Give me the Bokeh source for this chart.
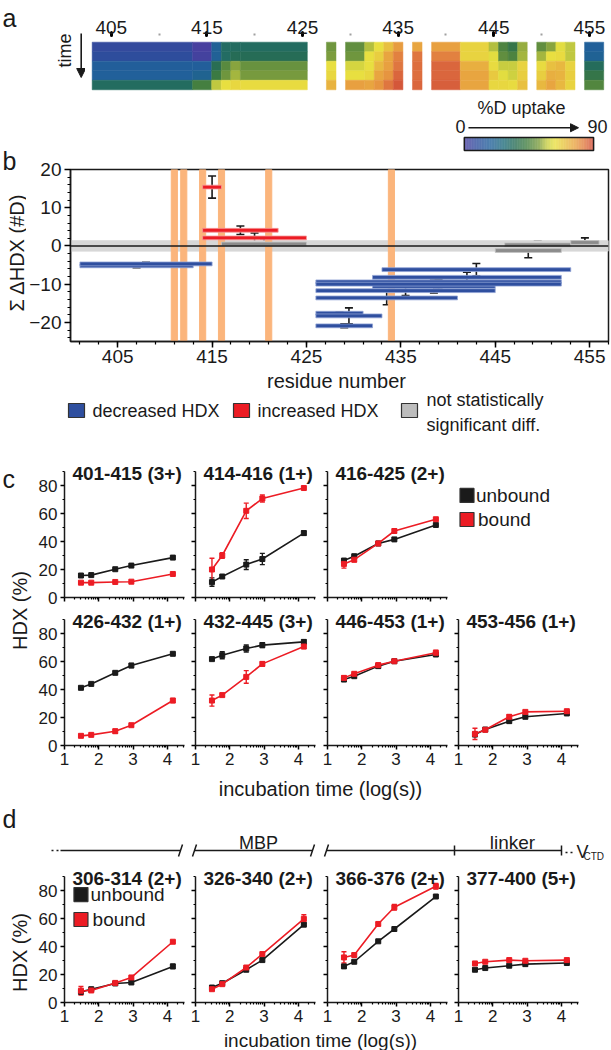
import math
import numpy as np
from bokeh.plotting import figure
from bokeh.models import (Range1d, FixedTicker, Label, Arrow, NormalHead, Whisker,
                          TeeHead, ColumnDataSource, LinearColorMapper, Span)
from bokeh.layouts import column, row
from bokeh.embed import file_html
from bokeh.resources import INLINE

FONT = "Liberation Sans"
INK = "#1a1a1a"
RED = "#ec1c24"
BLUE = "#2f4f9f"
GREY = "#8c8c8c"

# ---------------- data: panel a (heat map, %D uptake, 5 time points) ----------------
heat_left = [403.0, 413.5, 415.5, 416.5, 417.5, 418.5, 427.5, 429.5, 431.5, 432.5, 433.5, 434.5,
             436.5, 438.5, 441.5, 444.5, 445.5, 446.5, 447.5, 449.5, 450.5, 451.5, 452.5, 454.5]
heat_right = [413.5, 415.5, 416.5, 417.5, 418.5, 425.5, 428.5, 431.5, 432.5, 433.5, 434.5, 435.5,
              437.5, 441.5, 444.5, 445.5, 446.5, 447.5, 448.5, 450.5, 451.5, 452.5, 453.5, 456.5]
heat_values = [
    [7, 9, 17, 18, 33], [1, 2, 17, 21, 44], [19, 19, 36, 42, 57], [32, 32, 47, 50, 63],
    [33, 35, 53, 55, 65], [33, 35, 49, 51, 64], [50, 52, 63, 65, 73], [48, 50, 60, 63, 77],
    [56, 63, 63, 65, 76], [63, 67, 72, 76, 79], [70, 76, 77, 79, 84], [78, 82, 84, 86, 88],
    [76, 84, 85, 85, 86], [77, 82, 86, 86, 87], [66, 66, 74, 76, 76], [56, 62, 64, 68, 65],
    [45, 48, 58, 62, 65], [40, 45, 58, 59, 64], [54, 55, 66, 67, 70], [48, 55, 64, 67, 72],
    [53, 63, 70, 74, 76], [62, 64, 72, 73, 72], [57, 57, 66, 67, 66], [18, 20, 34, 40, 46],
]
heat_ticks = [405, 415, 425, 435, 445, 455]
heat_minor = [410, 420, 430, 440, 450]
uptake_low, uptake_high = 0, 90

# ---------------- data: panel b (sum delta HDX per peptide) ----------------
pep_start = [401, 401, 414, 414, 414, 416, 426, 426, 426, 426, 426, 432, 426, 426, 432, 433, 446, 445, 453]
pep_end = [413, 415, 416, 422, 425, 425, 431, 433, 432, 441, 445, 445, 452, 452, 452, 453, 453, 452, 456]
pep_dhdx = [-5.2, -4.7, 15.4, 4.1, 2.1, 0.5, -17.6, -18.3, -20.9, -13.6, -11.7, -10.6, -9.4, -10.0,
            -8.2, -6.2, 0.3, -1.2, 0.9]
pep_err = [0.5, 0.4, 2.9, 1.1, 1.3, 1.4, 0.3, 2.1, 0.5, 1.8, 1.3, 1.7, 1.3, 1.3, 1.3, 1.6, 1.0, 1.9, 1.2]
pep_class = ["dec", "dec", "inc", "inc", "inc", "ns", "dec", "dec", "dec", "dec", "dec", "dec", "dec",
             "dec", "dec", "dec", "ns", "ns", "ns"]
band_residues = [411, 412, 414, 416, 421, 434]
ns_band = 1.35
b_xticks = [405, 415, 425, 435, 445, 455]
b_yticks = [-20, -10, 0, 10, 20]

# ---------------- data: panels c and d (HDX % vs log time) ----------------
times_log = [1.48, 1.78, 2.48, 2.95, 4.16]
c_titles = ["401-415 (3+)", "414-416 (1+)", "416-425 (2+)", "426-432 (1+)", "432-445 (3+)",
            "446-453 (1+)", "453-456 (1+)"]
c_unbound = [[15.7, 16.0, 20.2, 22.8, 28.5], [11.0, 15.0, 23.5, 27.5, 46.0], [26.4, 29.5, 38.6, 41.5, 51.8],
             [41.2, 44.0, 51.9, 57.1, 65.5], [61.7, 64.5, 69.3, 71.7, 74.0], [47.1, 49.5, 56.7, 60.2, 65.0],
             [7.9, 11.4, 17.4, 20.5, 22.9]]
c_unbound_err = [[0.5, 0.6, 0.6, 0.8, 0.6], [3.0, 0.8, 3.5, 4.0, 1.5], [1.0, 0.8, 0.8, 1.2, 0.6],
                 [0.6, 0.5, 0.8, 1.5, 0.6], [0.8, 2.5, 2.5, 1.8, 1.5], [1.2, 0.8, 1.5, 0.8, 1.0],
                 [1.5, 1.0, 1.2, 0.6, 0.6]]
c_bound = [[10.6, 10.6, 11.1, 11.3, 16.8], [20.0, 30.0, 61.9, 70.7, 78.2], [24.0, 27.0, 38.6, 47.5, 55.9],
           [6.9, 7.6, 10.2, 14.5, 32.1], [32.1, 36.0, 49.0, 58.3, 70.7], [48.3, 51.2, 57.4, 60.2, 66.2],
           [8.3, 11.2, 20.5, 24.0, 24.5]]
c_bound_err = [[0.4, 0.4, 0.4, 0.4, 0.5], [8.0, 2.0, 5.5, 2.5, 0.8], [3.0, 1.5, 1.5, 1.2, 0.6],
               [0.6, 0.6, 1.5, 0.8, 1.5], [4.0, 1.0, 4.5, 1.5, 1.5], [1.5, 1.0, 1.5, 0.8, 1.8],
               [4.0, 1.0, 1.5, 0.8, 0.8]]
d_titles = ["306-314 (2+)", "326-340 (2+)", "366-376 (2+)", "377-400 (5+)"]
d_unbound = [[7.6, 9.5, 13.6, 14.3, 25.8], [10.7, 13.8, 23.4, 30.3, 55.6], [25.8, 29.1, 43.7, 52.5, 75.7],
             [23.4, 24.6, 26.3, 27.4, 28.2]]
d_unbound_err = [[0.6, 0.6, 0.6, 0.8, 1.5], [0.6, 0.6, 0.8, 1.0, 0.8], [0.8, 0.6, 0.6, 0.6, 0.6],
                 [0.6, 0.6, 0.6, 0.6, 0.6]]
d_bound = [[8.4, 8.6, 14.0, 17.9, 43.4], [9.5, 13.1, 25.0, 34.6, 59.7], [32.2, 33.9, 56.1, 68.0, 83.0],
           [27.9, 29.1, 30.3, 29.8, 30.3]]
d_bound_err = [[3.0, 1.0, 0.6, 0.8, 0.8], [0.8, 0.8, 0.8, 0.8, 3.0], [4.0, 1.0, 1.0, 2.0, 2.0],
               [0.8, 0.6, 0.6, 0.6, 0.6]]
domains = ["MBP", "linker"]

# ---------------- colour map ----------------
cmap_stops = [0.0, 0.09, 0.2, 0.31, 0.39, 0.48, 0.58, 0.64, 0.7, 0.78, 0.86, 0.93, 1.0]
cmap_colors = ["#4a3f9f", "#2f4c9c", "#21609a", "#1e6b78", "#266c55", "#3f7c40", "#7e9e3e",
               "#c6cc40", "#e8e040", "#e8c040", "#e8a040", "#e07840", "#d04a38"]


def _rgb(h):
    return [int(h[i:i + 2], 16) for i in (1, 3, 5)]


_rgbs = np.array([_rgb(c) for c in cmap_colors], dtype=float)
palette = []
for t in np.linspace(0, 1, 256):
    palette.append("#%02x%02x%02x" % tuple(int(round(np.interp(t, cmap_stops, _rgbs[:, k]))) for k in range(3)))
mapper = LinearColorMapper(palette=palette, low=uptake_low, high=uptake_high)

PXR = 9.561            # px per residue in panels a/b
B_FRAME_LEFT = 63      # px position of residue axis origin (x=400)
XMIN, XMAX = 400, 457


def common(p):
    p.grid.visible = False
    p.background_fill_color = None
    p.border_fill_color = "white"
    p.outline_line_color = None


def lab(p, x, y, text, size="18px", align="left", baseline="middle", angle=0.0, bold=False, **kw):
    p.add_layout(Label(x=x, y=y, text=text, text_font=FONT, text_font_size=size, text_align=align,
                       text_baseline=baseline, angle=angle, text_color=INK,
                       text_font_style="bold" if bold else "normal", **kw))


def canvas(x0, x1, y0, y1):
    """A plain drawing area whose coordinates are page pixels (for labels / decorations)."""
    p = figure(width=x1 - x0, height=y1 - y0, title=None, x_range=Range1d(x0, x1), y_range=Range1d(y1, y0),
               x_axis_type=None, y_axis_type=None, output_backend="svg", toolbar_location=None, min_border=0)
    common(p)
    return p


# ================= left strip for panels a / b =================
ab_left = canvas(0, 26, 0, 371)
lab(ab_left, 2, 17, "a", size="25px", baseline="alphabetic")
lab(ab_left, 2, 160, "b", size="25px", baseline="alphabetic")
lab(ab_left, 16, 252, "\u03a3 \u0394HDX (#D)", size="20px", align="center", angle=math.pi / 2)

# ================= Panel a =================
a_mid = canvas(26, 85, 0, 156)
lab(a_mid, 64, 50, "time", size="18px", align="center", angle=math.pi / 2)
a_mid.add_layout(Arrow(x_start=80.7, y_start=33, x_end=80.7, y_end=77, line_width=1.6, line_color=INK,
                       end=NormalHead(size=9, fill_color=INK, line_color=INK)))

pa = figure(width=526, height=156, title=None,
            x_range=Range1d(XMIN + (85 - B_FRAME_LEFT) / PXR, XMIN + (611 - B_FRAME_LEFT) / PXR),
            y_range=Range1d(11.9, -0.7), x_axis_location="above", y_axis_type=None,
            output_backend="svg", toolbar_location=None,
            min_border_left=0, min_border_right=0, min_border_top=35, min_border_bottom=1)
common(pa)
hl, hr, ht, hb, hv = [], [], [], [], []
for l, r, vals in zip(heat_left, heat_right, heat_values):
    for i, v in enumerate(vals):
        hl.append(l); hr.append(r); ht.append(i); hb.append(i + 1); hv.append(v)
pa.quad(left="l", right="r", top="t", bottom="b",
        source=ColumnDataSource(dict(l=hl, r=hr, t=ht, b=hb, v=hv)),
        fill_color={"field": "v", "transform": mapper}, line_color={"field": "v", "transform": mapper},
        line_width=0.5)
ax = pa.xaxis[0]
ax.ticker = FixedTicker(ticks=heat_ticks, minor_ticks=heat_minor)
ax.axis_line_color = None
ax.major_tick_in = 0
ax.major_tick_out = 3
ax.major_tick_line_width = 3
ax.major_tick_line_cap = "round"
ax.minor_tick_in = 0
ax.minor_tick_out = 2
ax.minor_tick_line_width = 2
ax.minor_tick_line_color = "#a0a0a0"
ax.major_label_text_font = FONT
ax.major_label_text_font_size = "19px"
ax.major_label_text_color = INK
ax.major_label_standoff = -1

# colour bar (extra ranges: 0..90 %D)
pa.extra_x_ranges = {"cb": Range1d(-263.66, 102.46)}
pa.extra_y_ranges = {"cb": Range1d(-0.385, 8.846)}
cb_edges = np.linspace(uptake_low, uptake_high, 181)
pa.quad(left=cb_edges[:-1], right=cb_edges[1:], bottom=0, top=1,
        fill_color=[palette[int(round((0.5 * (a + b) - uptake_low) / (uptake_high - uptake_low) * 255))]
                    for a, b in zip(cb_edges[:-1], cb_edges[1:])],
        line_color=None, x_range_name="cb", y_range_name="cb")
pa.quad(left=uptake_low, right=uptake_high, bottom=0, top=1, fill_color=None, line_color=INK, line_width=1.5,
        x_range_name="cb", y_range_name="cb")
lab(pa, 39.8, 3.3, "%D uptake", size="18px", align="center", x_range_name="cb", y_range_name="cb")
lab(pa, -2.6, 1.85, str(uptake_low), size="18px", align="center", x_range_name="cb", y_range_name="cb")
lab(pa, 92.7, 1.85, str(uptake_high), size="18px", align="center", x_range_name="cb", y_range_name="cb")
pa.add_layout(Arrow(x_start=2.9, y_start=1.75, x_end=79.5, y_end=1.75, line_width=1.3, line_color=INK,
                    end=NormalHead(size=8, fill_color=INK, line_color=INK),
                    x_range_name="cb", y_range_name="cb"))

# ================= Panel b =================
pb = figure(width=585, height=215, title=None, x_range=Range1d(XMIN, XMAX), y_range=Range1d(-25, 20),
            output_backend="svg", toolbar_location=None,
            min_border_left=37, min_border_right=3, min_border_top=13, min_border_bottom=30)
common(pb)
pb.outline_line_color = INK
pb.outline_line_width = 1.5
pb.hbar(y=0, height=2 * ns_band, left=XMIN, right=XMAX, color="#d7d7d7")
pb.vbar(x=band_residues, width=0.65, bottom=-25, top=20, color="#fbb57c")
pb.add_layout(Span(location=0, dimension="width", line_color=INK, line_width=1.5))
fill_of = {"dec": BLUE, "inc": RED, "ns": GREY}
edge_of = {"dec": "#8fa2d4", "inc": "#f59a9a", "ns": "#c4c4c4"}
pb.hbar(y=pep_dhdx, left=pep_start, right=pep_end, height=1.0,
        fill_color=[fill_of[c] for c in pep_class], line_color=[edge_of[c] for c in pep_class], line_width=0.8)
centers = [(s + e) / 2 for s, e in zip(pep_start, pep_end)]
esrc = ColumnDataSource(dict(x=centers, u=[v + e for v, e in zip(pep_dhdx, pep_err)],
                             l=[v - e for v, e in zip(pep_dhdx, pep_err)]))
pb.add_layout(Whisker(source=esrc, base="x", upper="u", lower="l", line_color=INK, line_width=1.6,
                      upper_head=TeeHead(size=8, line_color=INK, line_width=1.6),
                      lower_head=TeeHead(size=8, line_color=INK, line_width=1.6)))
pb.xaxis.ticker = FixedTicker(ticks=b_xticks, minor_ticks=list(range(401, 458, 2)))
pb.yaxis.ticker = FixedTicker(ticks=b_yticks, minor_ticks=list(range(-24, 21, 2)))
for a in (pb.xaxis[0], pb.yaxis[0]):
    a.axis_line_width = 1.5
    a.axis_line_color = INK
    a.major_tick_in = 0
    a.major_tick_out = 6
    a.major_tick_line_width = 1.5
    a.minor_tick_in = 0
    a.minor_tick_out = 3
    a.minor_tick_line_width = 1.2
    a.major_label_text_font = FONT
    a.major_label_text_font_size = "19px"
    a.major_label_text_color = INK
pb.xaxis.major_label_standoff = 2
pb.yaxis.major_label_standoff = 3

# ================= axis title + legend of b =================
pl = canvas(0, 611, 371, 440)
lab(pl, 336, 380, "residue number", size="20px", align="center")
leg_x = [76, 241, 409]
pl.rect(x=leg_x, y=410, width=16, height=14, fill_color=[BLUE, RED, "#bdbdbd"], line_color="#333333",
        line_width=1.2)
lab(pl, 92, 410, "decreased HDX", size="18px")
lab(pl, 257, 410, "increased HDX", size="18px")
lab(pl, 426, 399, "not statistically", size="18px")
lab(pl, 426, 424, "significant diff.", size="18px")

# ================= small HDX panels =================
PX_PER_PCT = 1.4
XR_END = 1 + 125 / 34.286
x_minor = [math.log10(k * 10 ** n) for n in range(1, 5) for k in range(2, 10) if math.log10(k * 10 ** n) <= 4.5]


def hdx_panel(width, bl, bt, bb, title=None, series=(), show_x=False, show_y=False, axes=True, ytop=100.0):
    fh = int(round(ytop * PX_PER_PCT))
    p = figure(width=width, height=bt + fh + bb, title=None, x_range=Range1d(1, XR_END), y_range=Range1d(0, ytop),
               output_backend="svg", toolbar_location=None,
               x_axis_type="linear" if axes else None, y_axis_type="linear" if axes else None,
               min_border_left=bl, min_border_right=0, min_border_top=bt, min_border_bottom=bb)
    common(p)
    if axes:
        p.xaxis.ticker = FixedTicker(ticks=[1, 2, 3, 4], minor_ticks=x_minor)
        p.yaxis.ticker = FixedTicker(ticks=[0, 20, 40, 60, 80], minor_ticks=[10, 30, 50, 70, 90])
        p.xaxis.bounds = (1, 4.5)
        p.yaxis.bounds = (0, 90)
        for a, show in ((p.xaxis[0], show_x), (p.yaxis[0], show_y)):
            a.axis_line_width = 1.5
            a.axis_line_color = INK
            a.major_tick_in = 0
            a.major_tick_out = 4
            a.major_tick_line_width = 1.5
            a.minor_tick_in = 0
            a.minor_tick_out = 2
            a.minor_tick_line_width = 1.2
            a.major_label_text_font = FONT
            if show:
                a.major_label_text_font_size = "17px"
                a.major_label_text_color = INK
                a.major_label_standoff = 3
            else:
                a.major_label_text_font_size = "1px"
                a.major_label_text_color = None
                a.major_label_standoff = 0
    for vals, errs, col in series:
        src = ColumnDataSource(dict(x=times_log, y=vals, u=[v + e for v, e in zip(vals, errs)],
                                    l=[v - e for v, e in zip(vals, errs)]))
        p.line("x", "y", source=src, color=col, line_width=1.6)
        p.add_layout(Whisker(source=src, base="x", upper="u", lower="l", line_color=col, line_width=1.4,
                             upper_head=TeeHead(size=5, line_color=col, line_width=1.4),
                             lower_head=TeeHead(size=5, line_color=col, line_width=1.4)))
        p.scatter("x", "y", source=src, marker="square", size=5, color=col)
    if title:
        lab(p, 1.23, 88.8, title, size="19px", bold=True)
    return p


def legend_items(p, xs, xt, y1, y2):
    p.rect(x=[xs, xs], y=[y1, y2], width=14, height=14, width_units="screen", height_units="screen",
           fill_color=[INK, RED], line_color="#333333", line_width=1.2)
    lab(p, xt, y1, "unbound", size="19px")
    lab(p, xt + 0.06, y2, "bound", size="19px")


# geometry per column: (width, left border)
cols = [(157, 32), (131, 6), (132, 7), (131, 6)]
C_BOT_YTOP = 90 + 11 / PX_PER_PCT   # lower c row starts 3 px later to leave room for the "0" label above

c_top = []
for k in range(3):
    w, bl = cols[k]
    c_top.append(hdx_panel(w, bl, 17, 11, c_titles[k],
                           [(c_unbound[k], c_unbound_err[k], INK), (c_bound[k], c_bound_err[k], RED)],
                           show_x=False, show_y=(k == 0)))
w, bl = cols[3]
c_leg = hdx_panel(w, bl, 17, 11, axes=False)
legend_items(c_leg, 1.248, 1.51, 72.9, 55.7)
c_top.append(c_leg)

c_bot = []
for k in range(4):
    w, bl = cols[k]
    c_bot.append(hdx_panel(w, bl, 0, 27, c_titles[3 + k],
                           [(c_unbound[3 + k], c_unbound_err[3 + k], INK), (c_bound[3 + k], c_bound_err[3 + k], RED)],
                           show_x=True, show_y=(k == 0), ytop=C_BOT_YTOP))

c_left = canvas(0, 32, 440, 772)
lab(c_left, 2, 478, "c", size="25px", baseline="alphabetic")
lab(c_left, 19.5, 610, "HDX (%)", size="20px", align="center", angle=math.pi / 2)

# ================= header between c and d =================
ph = canvas(0, 611, 772, 862)
lab(ph, 320, 788, "incubation time (log(s))", size="20px", align="center", baseline="alphabetic")
lab(ph, 2, 818, "d", size="25px", baseline="alphabetic")
BY = 850
ph.segment(x0=[60, 194, 326, 454], y0=BY, x1=[180, 312, 454, 561], y1=BY, line_color=INK, line_width=1.5)
ph.segment(x0=[178, 192, 310, 324], y0=BY + 6, x1=[182, 196, 314, 328], y1=BY - 6, line_color=INK,
           line_width=1.5)
ph.segment(x0=[454, 561], y0=BY + 5, x1=[454, 561], y1=BY - 5, line_color=INK, line_width=1.5)
ph.segment(x0=[51, 565], y0=[BY, BY + 2], x1=[59, 574], y1=[BY, BY + 2], line_color=INK, line_width=1.5,
           line_dash="2 3")
lab(ph, 258, 842, domains[0], size="18px", align="center")
lab(ph, 512, 842, domains[1], size="19px", align="center")
lab(ph, 576, 851, "V", size="18px", baseline="alphabetic")
lab(ph, 583, 856, "CTD", size="10px", baseline="alphabetic")

# ================= panel d =================
d_figs = []
for k in range(4):
    w, bl = cols[k]
    d_figs.append(hdx_panel(w, bl, 0, 27, d_titles[k],
                            [(d_unbound[k], d_unbound_err[k], INK), (d_bound[k], d_bound_err[k], RED)],
                            show_x=True, show_y=(k == 0)))
legend_items(d_figs[0], 1.48, 1.76, 77.1, 59.3)

d_left = canvas(0, 32, 862, 1029)
lab(d_left, 19.5, 952, "HDX (%)", size="20px", align="center", angle=math.pi / 2)

pf = canvas(0, 611, 1029, 1050)
lab(pf, 320, 1039.5, "incubation time (log(s))", size="19px", align="center", baseline="middle")

top_block = row(
    ab_left,
    column(row(a_mid, column(pa, spacing=0), spacing=0), column(pb, spacing=0), spacing=0),
    spacing=0,
)

layout = column(
    top_block,
    pl,
    row(c_left, column(row(*c_top, spacing=0), row(*c_bot, spacing=0), spacing=0), spacing=0),
    ph,
    row(d_left, row(*d_figs, spacing=0), spacing=0),
    pf,
    spacing=0,
)

open("out.html", "w").write(file_html(layout, INLINE))
